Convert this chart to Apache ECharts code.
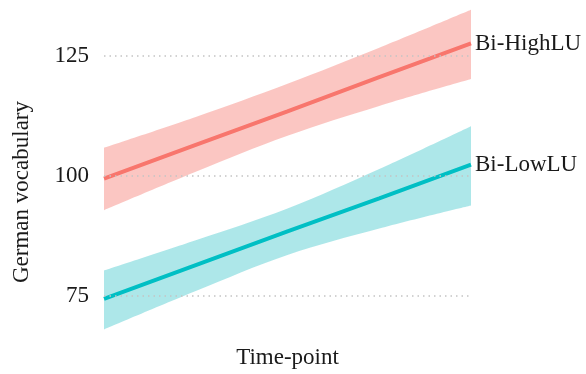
<!DOCTYPE html>
<html><head><meta charset="utf-8">
<script src="https://cdn.jsdelivr.net/npm/echarts@6/dist/echarts.min.js"></script>
<style>html,body{margin:0;padding:0;background:#fff}#c{width:586px;height:374px}</style>
</head><body><div id="c"></div>
<script>
const timePoints = ['1', '2', '3', '4', '5'];
const highMean  = [99.4, 106.4, 113.4, 120.5, 127.5];
const highUpper = [105.8, 112.2, 119.1, 126.6, 134.5];
const highLower = [92.8, 100.8, 108.3, 114.5, 120.1];
const lowMean   = [74.4, 81.4, 88.4, 95.3, 102.3];
const lowUpper  = [80.3, 86.6, 93.2, 101.4, 110.3];
const lowLower  = [68.0, 76.0, 83.5, 89.0, 93.8];
const yTicks = [75, 100, 125];
const seriesNames = ['Bi-HighLU', 'Bi-LowLU'];

const FONT = "'Liberation Serif','Times New Roman',serif";
const RED = '#F8766D', TEAL = '#00BFC4';

function band(lower, upper, stack, color) {
  return [
    { type: 'line', stack: stack, data: lower.slice(), symbol: 'none', showSymbol: false, smooth: 0.35,
      lineStyle: { width: 0, opacity: 0 }, silent: true, z: 1 },
    { type: 'line', stack: stack, data: upper.map((u, i) => +(u - lower[i]).toFixed(2)),
      symbol: 'none', showSymbol: false, smooth: 0.35, lineStyle: { width: 0, opacity: 0 },
      areaStyle: { color: color, opacity: 1 }, silent: true, z: 1 }
  ];
}

const chart = echarts.init(document.getElementById('c'));
chart.setOption({
  animation: false,
  textStyle: { fontFamily: FONT },
  grid: { left: 104, right: 115, top: 7.4, bottom: 26.4 },
  xAxis: {
    type: 'category', data: timePoints, boundaryGap: false,
    axisLine: { show: false }, axisTick: { show: false }, axisLabel: { show: false }, splitLine: { show: false },
    name: 'Time-point', nameLocation: 'middle', nameGap: 2,
    nameTextStyle: { fontFamily: FONT, fontSize: 23, color: '#1a1a1a' }
  },
  yAxis: {
    type: 'value', min: 65, max: 135, interval: 5,
    axisLine: { show: false }, axisTick: { show: false }, splitLine: { show: false },
    axisLabel: { fontFamily: FONT, fontSize: 23, color: '#1a1a1a', margin: 15,
      formatter: v => yTicks.includes(v) ? String(v) : '' }
  },
  graphic: [{
    type: 'text', rotation: Math.PI / 2,
    style: { text: 'German vocabulary', font: "23px 'Liberation Serif','Times New Roman',serif", fill: '#1a1a1a' },
    x: 10, y: 283
  }],
  series: [
    { type: 'line', data: [], silent: true, z: 0,
      markLine: { silent: true, symbol: 'none', label: { show: false },
        lineStyle: { color: '#c4c4c4', type: [1.5, 4], width: 1.5 },
        data: yTicks.map(t => ({ yAxis: t })) } },
    ...band(highLower, highUpper, 'hi', 'rgba(246,120,110,0.42)'),
    ...band(lowLower, lowUpper, 'lo', 'rgba(0,180,188,0.32)'),
    { name: seriesNames[0], type: 'line', data: highMean, symbol: 'none', z: 3,
      lineStyle: { color: RED, width: 4 },
      endLabel: { show: true, formatter: '{a}', distance: 4, fontFamily: FONT, fontSize: 23, color: '#1a1a1a' } },
    { name: seriesNames[1], type: 'line', data: lowMean, symbol: 'none', z: 3,
      lineStyle: { color: TEAL, width: 4 },
      endLabel: { show: true, formatter: '{a}', distance: 4, fontFamily: FONT, fontSize: 23, color: '#1a1a1a' } }
  ]
});
</script></body></html>
